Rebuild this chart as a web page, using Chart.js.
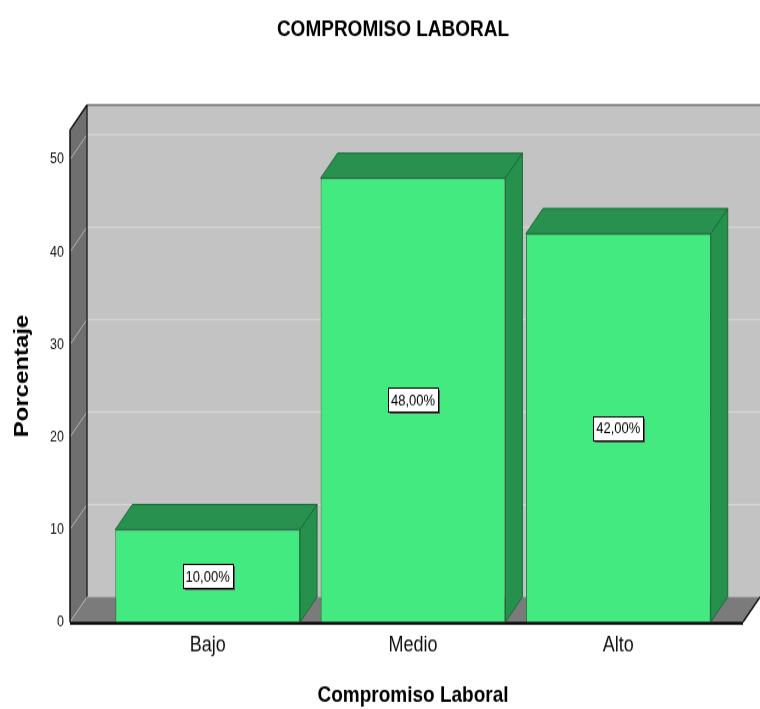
<!DOCTYPE html>
<html>
<head>
<meta charset="utf-8">
<script src="https://cdn.jsdelivr.net/npm/chart.js@4/dist/chart.umd.min.js"></script>
<style>
  html, body { margin: 0; padding: 0; background: #fff; }
  #frame { width: 760px; height: 709px; overflow: hidden; position: relative; }
  /* the chart is drawn on a shorter canvas and stretched vertically */
  #wrap { position: absolute; left: 0; top: 0; width: 760px; height: 591px; transform: scale(1, 1.19966); transform-origin: 0 0; }
</style>
</head>
<body>
<div id="frame"><div id="wrap"><canvas id="chart" width="760" height="591"></canvas></div></div>
<script>
// ---- data ----
const chartTitle = 'COMPROMISO LABORAL';
const categories = ['Bajo', 'Medio', 'Alto'];
const percentages = [10, 48, 42];
const yTickValues = [0, 10, 20, 30, 40, 50];
const yMax = 53.2;
const xAxisTitle = 'Compromiso Laboral';
const yAxisTitle = 'Porcentaje';

// ---- geometry / style ----
const CANVAS_H = 591;
const STRETCH = 709 / CANVAS_H;
const DEPTH_X = 17;
const DEPTH_Y = -25 / STRETCH;
const WALL_FRONT_LEFT = 70;
const FLOOR_FRONT_RIGHT = 743;
const FONT = "'Liberation Sans', Arial, sans-serif";

function fontExists(name) {
  const c = document.createElement('canvas').getContext('2d');
  const sample = '0123456789 abcdefghij';
  c.font = '40px monospace';
  const w1 = c.measureText(sample).width;
  c.font = `40px "${name}", monospace`;
  return c.measureText(sample).width !== w1;
}
const HAS_NARROW = fontExists('Liberation Sans Narrow');
const tickFont = HAS_NARROW
  ? { family: "'Liberation Sans Narrow', " + FONT, size: 16 }
  : { family: FONT, size: 12.5 };

function poly(ctx, pts, fill, stroke, lw) {
  ctx.beginPath();
  ctx.moveTo(pts[0][0], pts[0][1]);
  for (let i = 1; i < pts.length; i++) ctx.lineTo(pts[i][0], pts[i][1]);
  ctx.closePath();
  if (fill) { ctx.fillStyle = fill; ctx.fill(); }
  if (stroke) { ctx.strokeStyle = stroke; ctx.lineWidth = lw || 1; ctx.stroke(); }
}
function line(ctx, x1, y1, x2, y2, color, lw) {
  ctx.beginPath();
  ctx.moveTo(x1, y1);
  ctx.lineTo(x2, y2);
  ctx.strokeStyle = color;
  ctx.lineWidth = lw || 1;
  ctx.stroke();
}

// walls, floor and gridlines of the 3D box
const boxPlugin = {
  id: 'box3d',
  beforeDatasetsDraw(chart) {
    const { ctx, chartArea: { top, bottom }, scales: { y } } = chart;
    const fl = WALL_FRONT_LEFT, bl = fl + DEPTH_X;
    const fr = FLOOR_FRONT_RIGHT, br = fr + DEPTH_X;
    const farRight = chart.width + 30;
    ctx.save();
    // back wall
    poly(ctx, [[bl, top + DEPTH_Y], [farRight, top + DEPTH_Y], [farRight, bottom + DEPTH_Y], [bl, bottom + DEPTH_Y]], '#c3c3c3');
    // left wall
    poly(ctx, [[fl, top], [bl, top + DEPTH_Y], [bl, bottom + DEPTH_Y], [fl, bottom]], '#6f6f6f');
    // floor
    poly(ctx, [[fl, bottom], [bl, bottom + DEPTH_Y], [br, bottom + DEPTH_Y], [fr, bottom]], '#7b7b7b');
    // gridlines
    yTickValues.forEach(v => {
      const py = y.getPixelForValue(v);
      line(ctx, fl, py, bl, py + DEPTH_Y, '#b4b4b4', 1);
      if (v > 0) line(ctx, bl, py + DEPTH_Y, farRight, py + DEPTH_Y, '#d6d6d6', 1.2);
    });
    // edges
    line(ctx, bl, top + DEPTH_Y, farRight, top + DEPTH_Y, '#6a6a6a', 1.5);
    line(ctx, bl, top + DEPTH_Y, bl, bottom + DEPTH_Y, '#2a2a2a', 1.5);
    line(ctx, bl, bottom + DEPTH_Y, farRight, bottom + DEPTH_Y, '#a8a8a8', 1);
    line(ctx, fl, top, bl, top + DEPTH_Y, '#111', 1.5);
    line(ctx, fl, top, fl, bottom, '#111', 1.5);
    line(ctx, fr, bottom, br, bottom + DEPTH_Y, '#111', 1.5);
    line(ctx, fl, bottom + 1, fr, bottom + 1, '#000', 2.5);
    ctx.restore();
  },
  afterDatasetsDraw(chart) {
    const { ctx, scales: { y } } = chart;
    const meta = chart.getDatasetMeta(0);
    ctx.save();
    meta.data.forEach((bar, i) => {
      const { x, y: yt, base, width } = bar.getProps(['x', 'y', 'base', 'width'], true);
      const l = x - width / 2, r = x + width / 2;
      // top face
      poly(ctx, [[l, yt], [l + DEPTH_X, yt + DEPTH_Y], [r + DEPTH_X, yt + DEPTH_Y], [r, yt]], '#28914f', '#1b6b38', 1);
      // side face
      poly(ctx, [[r, yt], [r + DEPTH_X, yt + DEPTH_Y], [r + DEPTH_X, base + DEPTH_Y], [r, base]], '#26904d', '#1b6b38', 1);
      // value label
      const value = percentages[i];
      const text = value.toFixed(2).replace('.', ',') + '%';
      const cy = y.getPixelForValue(value / 2);
      ctx.font = `13px ${FONT}`;
      const bw = Math.round(ctx.measureText(text).width) + 6, bh = 20;
      const bx = Math.round(x - bw / 2) + 0.5, by = Math.round(cy - bh / 2) + 0.5;
      ctx.fillStyle = '#5a5a5a';
      ctx.fillRect(bx + 1.5, by + 1.5, bw, bh);
      ctx.fillStyle = '#fff';
      ctx.fillRect(bx, by, bw, bh);
      ctx.strokeStyle = '#000';
      ctx.lineWidth = 1;
      ctx.strokeRect(bx, by, bw, bh);
      ctx.fillStyle = '#000';
      ctx.textAlign = 'center';
      ctx.textBaseline = 'middle';
      ctx.fillText(text, x, cy + 1);
    });
    ctx.restore();
  },
  afterDraw(chart) {
    const { ctx } = chart;
    ctx.save();
    ctx.font = `bold 19px ${FONT}`;
    ctx.fillStyle = '#000';
    ctx.textAlign = 'center';
    ctx.textBaseline = 'middle';
    ctx.fillText(chartTitle, 393, 30 / STRETCH);
    ctx.restore();
  }
};

new Chart(document.getElementById('chart'), {
  type: 'bar',
  data: {
    labels: categories,
    datasets: [{
      data: percentages,
      backgroundColor: '#42ea7f',
      borderColor: '#1f7d42',
      borderWidth: 1,
      barPercentage: 0.9,
      categoryPercentage: 1
    }]
  },
  options: {
    responsive: false,
    animation: false,
    devicePixelRatio: 1,
    layout: { padding: { top: 130 / STRETCH, right: 39, left: 0, bottom: 0 } },
    plugins: {
      legend: { display: false },
      tooltip: { enabled: false },
      title: { display: false }
    },
    scales: {
      x: {
        grid: { display: false, drawTicks: false },
        border: { display: false },
        ticks: { color: '#111', font: { family: FONT, size: 18 }, padding: 8.3 },
        title: {
          display: true, text: xAxisTitle, color: '#000',
          font: { family: FONT, size: 19, weight: 'bold' },
          padding: { top: 0, bottom: 0 }
        },
        afterFit(scale) { scale.height = CANVAS_H - 622 / STRETCH; }
      },
      y: {
        min: 0,
        max: yMax,
        afterBuildTicks(scale) { scale.ticks = yTickValues.map(v => ({ value: v })); },
        grid: { display: false, drawTicks: false },
        border: { display: false },
        ticks: { color: '#111', font: tickFont, padding: 41 },
        title: {
          display: true, text: yAxisTitle, color: '#000',
          font: { family: FONT, size: 20, weight: 'bold' },
          padding: { top: 10, bottom: 0 }
        },
        afterFit(scale) { scale.width = 105; }
      }
    }
  },
  plugins: [boxPlugin]
});
</script>
</body>
</html>
